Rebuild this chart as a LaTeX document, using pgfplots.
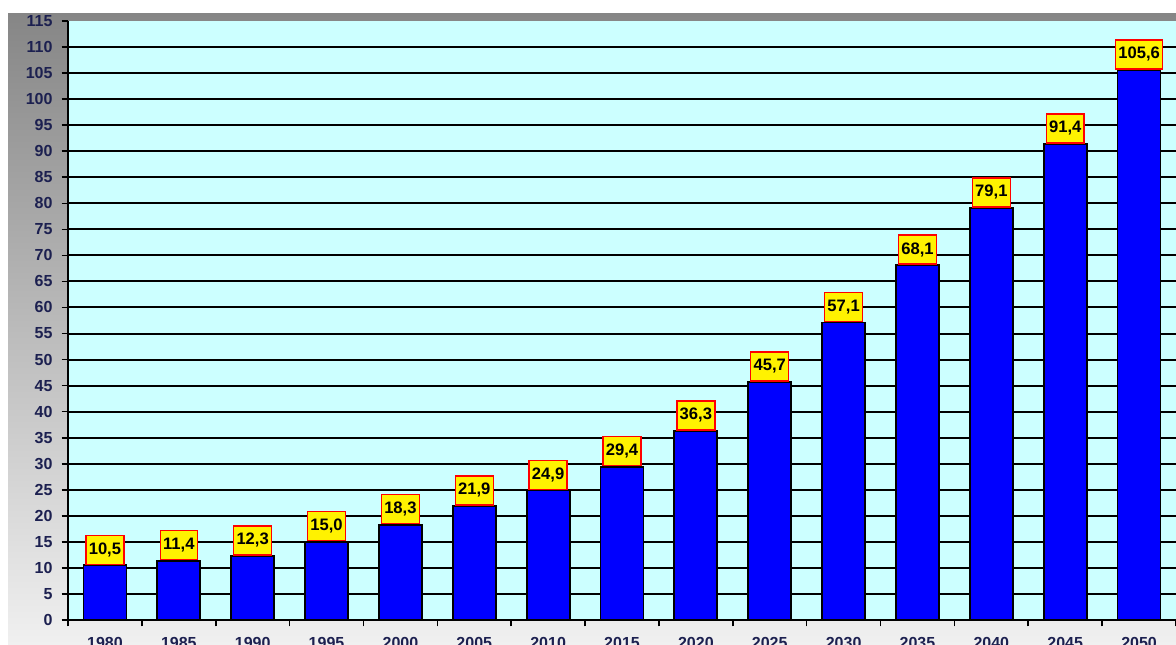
\documentclass[border=0pt]{standalone}
\usepackage{fontspec}
\setmainfont{Liberation Sans}
\usepackage{pgfplots}
\pgfplotsset{compat=1.18}
\definecolor{plotbg}{HTML}{CCFFFF}
\definecolor{barblue}{HTML}{0000FF}
\definecolor{ticknavy}{HTML}{1C2050}
\definecolor{bandtop}{HTML}{868686}
\definecolor{bandbot}{HTML}{F0F0F0}

\begin{document}
\begin{tikzpicture}[x=1pt,y=1pt]
% page and graded backdrop
\fill[white] (0,0) rectangle (588,322);
\shade[top color=bandtop, bottom color=bandbot] (4,0) rectangle (588,315);
\begin{axis}[
  at={(34pt,12pt)}, anchor=south west,
  scale only axis, width=554pt, height=299.5pt,
  xmin=-0.5, xmax=14.5, ymin=0, ymax=115,
  axis x line=bottom, axis y line=left,
  axis line style={-, line width=1pt, black},
  axis background/.style={fill=plotbg},
  ybar, bar width=21.5pt,
  xtick={-0.5,0.5,...,14.5}, xticklabels={},
  extra x ticks={0,1,...,14},
  extra x tick labels={1980,1985,1990,1995,2000,2005,2010,2015,2020,2025,2030,2035,2040,2045,2050},
  extra x tick style={major tick length=0pt},
  ytick={0,5,...,110},
  extra y ticks={115},
  extra y tick style={grid=none},
  ymajorgrids,
  major grid style={black, line width=1pt},
  tick align=outside, major tick length=3.2pt,
  tick style={black, line width=0.8pt},
  /pgf/number format/assume math mode=true,
  ticklabel style={font=\bfseries\fontsize{8}{9}\selectfont, text=ticknavy},
  yticklabel style={xshift=-1pt},
  xticklabel style={yshift=-5pt},
  nodes near coords={\pgfmathprintnumber[fixed,fixed zerofill,precision=1,use comma,assume math mode=true]{\pgfplotspointmeta}},
  every node near coord/.append style={
    fill=yellow, draw=red, line width=0.7pt, text=black,
    font=\bfseries\fontsize{8.3}{9}\selectfont,
    inner xsep=1.4pt, inner ysep=0pt, minimum height=14.5pt,
    anchor=south, yshift=0.2pt},
]
\addplot[fill=barblue, draw=black, line width=0.9pt] coordinates {
  (0,10.5) (1,11.4) (2,12.3) (3,15.0) (4,18.3) (5,21.9) (6,24.9) (7,29.4)
  (8,36.3) (9,45.7) (10,57.1) (11,68.1) (12,79.1) (13,91.4) (14,105.6)
};
\end{axis}
\pgfresetboundingbox
\path[use as bounding box] (0,0) rectangle (588,322);
\end{tikzpicture}
\end{document}
